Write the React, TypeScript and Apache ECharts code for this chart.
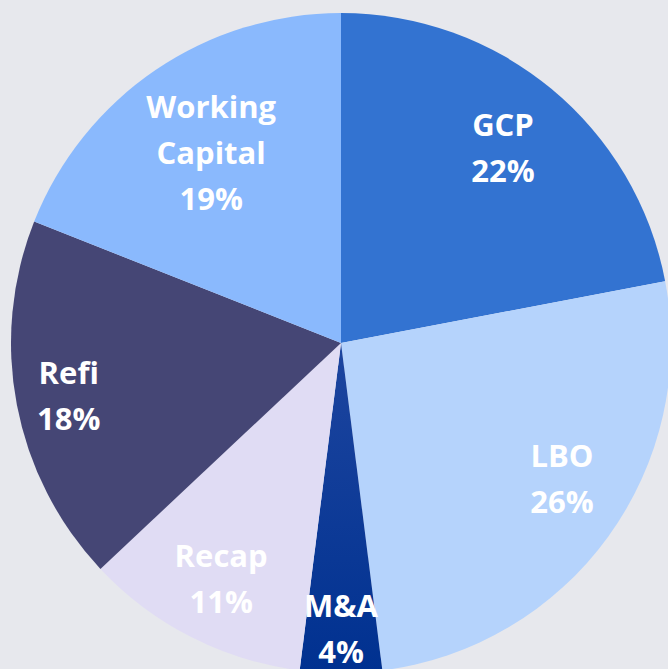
import React, { useEffect, useRef } from "react";
import * as echarts from "echarts";

const categories = ["GCP", "LBO", "M&A", "Recap", "Refi", "Working Capital"];
const shares = [22, 26, 4, 11, 18, 19];

const sliceColors = ["#3373d1", "#b5d3fc", "#043796", "#e0dcf4", "#454675", "#8ab9fd"];
// label placement: radial fraction of the radius, and angular nudge in degrees
const labelRadialFraction = [0.77, 0.785, 0.865, 0.8, 0.84, 0.7];
const labelAngleShift = [0, -4.5, 0, 0, 0, 0];

const CX = 341;
const CY = 343;
const R = 330;

export default function App() {
  const ref = useRef<HTMLDivElement>(null);
  useEffect(() => {
    if (!ref.current) return;
    const chart = echarts.init(ref.current, null, { renderer: "svg" });
    chart.setOption({
      animation: false,
      backgroundColor: "#e7e8ed",
      series: [
        {
          type: "pie",
          center: [CX, CY],
          radius: [0, R],
          startAngle: 90,
          clockwise: true,
          avoidLabelOverlap: false,
          itemStyle: { borderWidth: 0 },
          label: {
            show: true,
            position: "inside",
            color: "#ffffff",
            fontFamily: "Open Sans",
            fontWeight: "bold",
            fontSize: 31,
            lineHeight: 46,
            align: "center",
            formatter: (p: any) => `${String(p.name).replace(" ", "\n")}\n${p.value}%`,
          },
          labelLine: { show: false },
          emphasis: { disabled: true },
          labelLayout: (params: any) => {
            const r = params.labelRect;
            const lx = r.x + r.width / 2;
            const ly = r.y + r.height / 2;
            const vx = lx - CX;
            const vy = ly - CY;
            const theta = Math.atan2(vx, -vy) + (labelAngleShift[params.dataIndex] * Math.PI) / 180;
            const target = labelRadialFraction[params.dataIndex] * R;
            const nx = CX + target * Math.sin(theta);
            const ny = CY - target * Math.cos(theta);
            return { dx: nx - lx, dy: ny - ly };
          },
          data: categories.map((name, i) => ({
            name,
            value: shares[i],
            itemStyle: {
              color:
                name === "M&A"
                  ? new echarts.graphic.LinearGradient(0, 0, 0, 1, [
                      { offset: 0, color: "#1d459f" },
                      { offset: 1, color: "#003190" },
                    ])
                  : sliceColors[i],
            },
          })),
        },
      ],
    });
    return () => chart.dispose();
  }, []);
  return (
    <div
      ref={ref}
      style={{ position: "fixed", left: 0, top: 0, width: 668, height: 669 }}
    />
  );
}
